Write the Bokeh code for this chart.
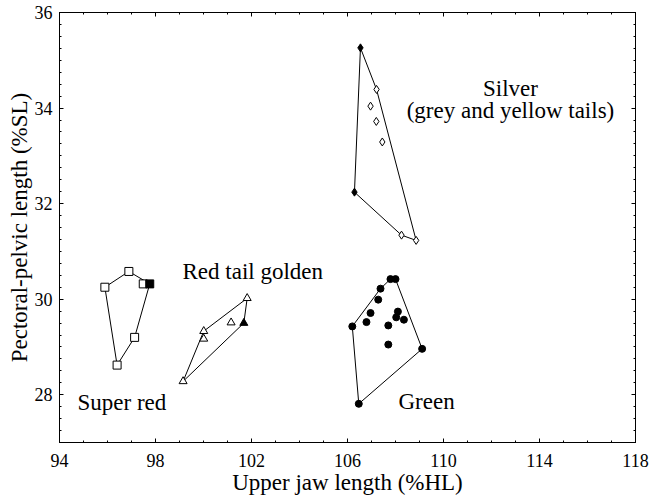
from bokeh.plotting import figure
from bokeh.models import Range1d, LinearAxis, FixedTicker, Label, CustomLabelingPolicy
from bokeh.embed import file_html
from bokeh.resources import INLINE

FONT = "Liberation Serif"

# ---- data (upper jaw length %HL, pectoral-pelvic length %SL) ----
super_red_x = [95.89, 96.89, 97.49, 97.13, 96.40]
super_red_y = [30.25, 30.58, 30.32, 29.20, 28.62]
super_red_fill_x = [97.76]
super_red_fill_y = [30.32]

red_tail_x = [101.82, 100.01, 100.01, 101.15, 99.15]
red_tail_y = [30.02, 29.33, 29.17, 29.51, 28.28]
red_tail_fill_x = [101.68]
red_tail_fill_y = [29.50]

green_x = [107.79, 108.00, 107.375, 107.28, 106.96, 106.79, 106.20, 107.70,
           108.10, 108.03, 108.35, 107.70, 109.11, 106.47]
green_y = [30.42, 30.42, 30.22, 29.99, 29.71, 29.52, 29.43, 29.45,
           29.74, 29.62, 29.57, 29.05, 28.96, 27.81]

silver_x = [107.21, 106.96, 107.20, 107.45, 108.25, 108.86]
silver_y = [34.39, 34.04, 33.72, 33.29, 31.34, 31.23]
silver_fill_x = [106.54, 106.29]
silver_fill_y = [35.26, 32.24]

x_major_ticks = [94, 98, 102, 106, 110, 114, 118]
x_minor_ticks = list(range(94, 119))
y_major_ticks = [28, 30, 32, 34, 36]
y_minor_ticks = [27 + 0.25 * i for i in range(37)]


def hull(xs, ys):
    pts = sorted(set(zip(xs, ys)))
    if len(pts) < 3:
        return pts

    def cross(o, a, b):
        return (a[0] - o[0]) * (b[1] - o[1]) - (a[1] - o[1]) * (b[0] - o[0])

    lower, upper = [], []
    for q in pts:
        while len(lower) >= 2 and cross(lower[-2], lower[-1], q) <= 0:
            lower.pop()
        lower.append(q)
    for q in reversed(pts):
        while len(upper) >= 2 and cross(upper[-2], upper[-1], q) <= 0:
            upper.pop()
        upper.append(q)
    h = lower[:-1] + upper[:-1]
    h.append(h[0])
    return h


p = figure(width=649, height=497, output_backend="svg", toolbar_location=None,
           x_range=Range1d(94, 118), y_range=Range1d(27, 36),
           min_border_left=59, min_border_right=14, min_border_top=12,
           min_border_bottom=54)
p.background_fill_color = "white"
p.border_fill_color = "white"
p.outline_line_color = "black"
p.outline_line_width = 1
p.xgrid.visible = False
p.ygrid.visible = False


def style_axis(ax, ticker, show_labels=True):
    ax.ticker = ticker
    ax.axis_line_color = "black"
    ax.major_tick_in = 4
    ax.major_tick_out = 0
    ax.minor_tick_in = 2
    ax.minor_tick_out = 0
    ax.major_tick_line_color = "black"
    ax.minor_tick_line_color = "black"
    ax.major_label_text_font = FONT
    ax.major_label_text_color = "black"
    ax.axis_label_text_font = FONT
    ax.axis_label_text_font_style = "normal"
    ax.axis_label_text_color = "black"
    ax.axis_label_text_font_size = "23px"
    if show_labels:
        ax.major_label_text_font_size = "18px"
    else:
        # mirrored tick marks only: no labels drawn on this side
        ax.major_label_text_font_size = "1px"
        ax.major_label_standoff = 0
        ax.major_label_policy = CustomLabelingPolicy(code="return new Set()")


def xticker():
    return FixedTicker(ticks=x_major_ticks, minor_ticks=x_minor_ticks)


def yticker():
    return FixedTicker(ticks=y_major_ticks, minor_ticks=y_minor_ticks)


style_axis(p.xaxis[0], xticker())
style_axis(p.yaxis[0], yticker())
p.xaxis[0].axis_label = "Upper jaw length (%HL)"
p.yaxis[0].axis_label = "Pectoral-pelvic length (%SL)"
p.xaxis[0].major_label_standoff = 11
p.xaxis[0].axis_label_standoff = 0
p.yaxis[0].major_label_standoff = 7
p.yaxis[0].axis_label_standoff = 0

top = LinearAxis()
style_axis(top, xticker(), False)
p.add_layout(top, "above")
right = LinearAxis()
style_axis(right, yticker(), False)
p.add_layout(right, "right")

# ---- hulls ----
groups = [
    (super_red_x + super_red_fill_x, super_red_y + super_red_fill_y),
    (red_tail_x + red_tail_fill_x, red_tail_y + red_tail_fill_y),
    (green_x, green_y),
    (silver_x + silver_fill_x, silver_y + silver_fill_y),
]
for gx, gy in groups:
    h = hull(gx, gy)
    p.line([q[0] for q in h], [q[1] for q in h], line_color="black", line_width=1)

# ---- markers ----
p.scatter(super_red_x, super_red_y, marker="square", size=8,
          fill_color="white", line_color="black", line_width=1)
p.scatter(super_red_fill_x, super_red_fill_y, marker="square", size=8,
          fill_color="black", line_color="black", line_width=1)

p.scatter(red_tail_x, red_tail_y, marker="triangle", size=8,
          fill_color="white", line_color="black", line_width=1)
p.scatter(red_tail_fill_x, red_tail_fill_y, marker="triangle", size=8,
          fill_color="black", line_color="black", line_width=1)

p.scatter(green_x, green_y, marker="circle", size=7,
          fill_color="black", line_color="black", line_width=1)

p.scatter(silver_x, silver_y, marker="diamond", size=8,
          fill_color="white", line_color="black", line_width=1)
p.scatter(silver_fill_x, silver_fill_y, marker="diamond", size=8,
          fill_color="black", line_color="black", line_width=1)


# ---- group labels ----
def add_label(x, y, text, align):
    p.add_layout(Label(x=x, y=y, text=text, text_font=FONT, text_font_size="23px",
                       text_color="black", text_align=align, text_baseline="middle"))


add_label(112.79, 34.41, "Silver", "center")
add_label(112.79, 33.95, "(grey and yellow tails)", "center")
add_label(99.125, 30.57, "Red tail golden", "left")
add_label(94.75, 27.84, "Super red", "left")
add_label(108.125, 27.86, "Green", "left")

open("out.html", "w").write(file_html(p, INLINE))
